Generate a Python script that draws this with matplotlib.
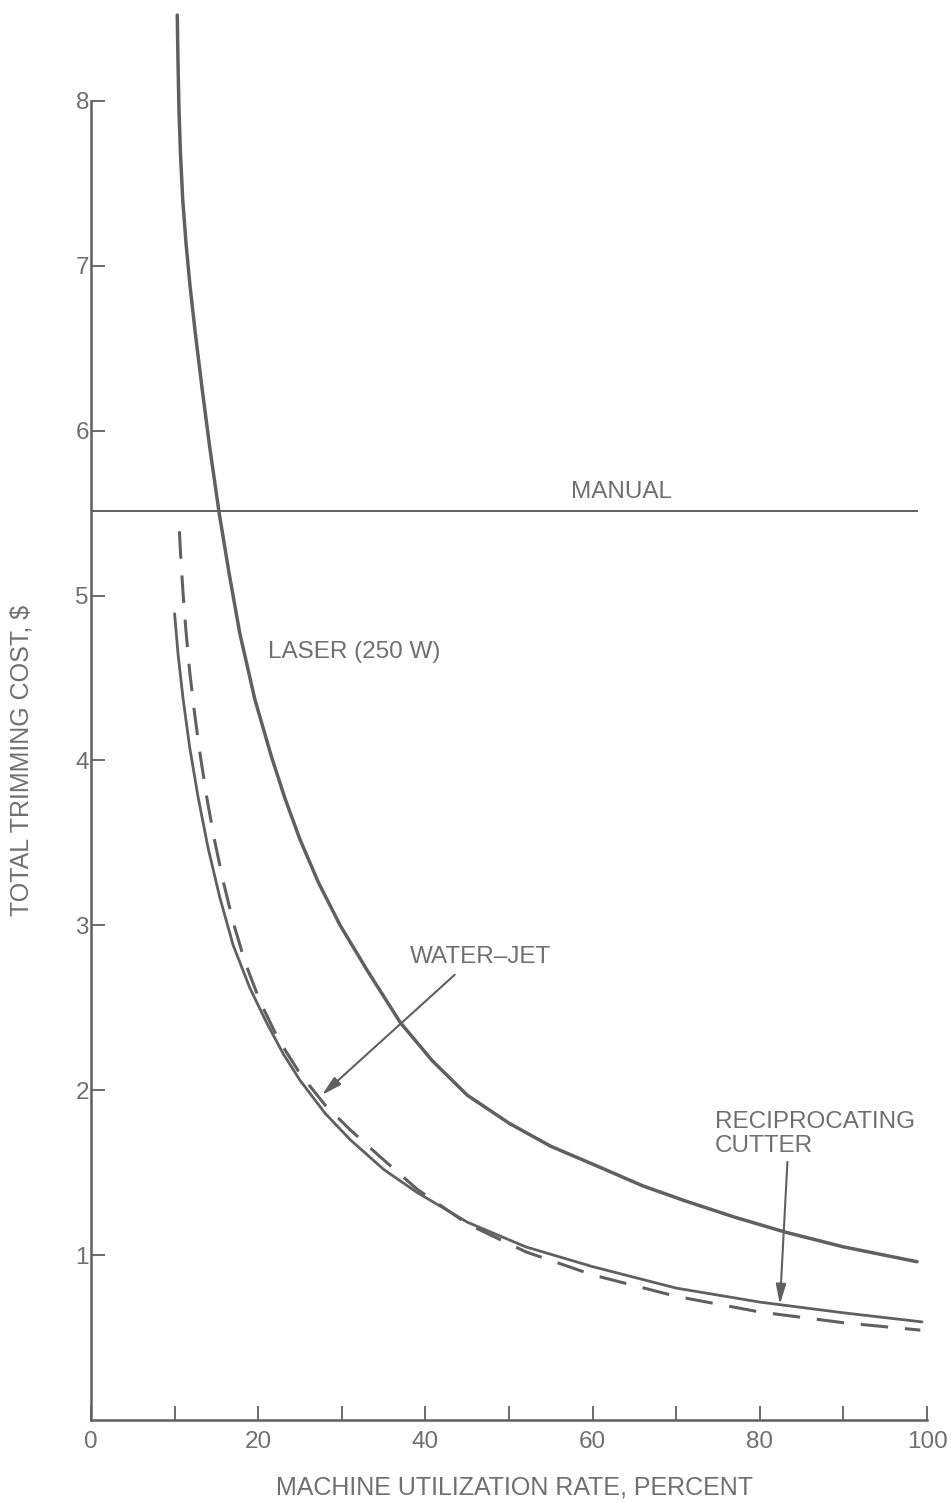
"""Total trimming cost vs machine utilization rate (laser, water-jet, reciprocating cutter, manual)."""

import matplotlib

matplotlib.use("Agg")
import matplotlib.pyplot as plt

# values
laser_x = [10.32, 10.40, 10.52, 10.70, 10.97, 11.36, 11.84, 12.5, 13.3, 14.2, 15.3, 16.5, 17.8,
           19.6, 21.6, 23.2, 25.0, 27.2, 29.8, 33.0, 37.0, 40.8, 45.0, 50.0, 55.0, 61.0, 66.0,
           71.0, 77.0, 83.0, 90.0, 98.8]
laser_y = [8.52, 8.25, 7.95, 7.68, 7.40, 7.14, 6.88, 6.58, 6.25, 5.90, 5.51, 5.14, 4.77,
           4.37, 4.02, 3.77, 3.52, 3.26, 3.00, 2.73, 2.41, 2.18, 1.97, 1.80, 1.66, 1.53, 1.42,
           1.33, 1.23, 1.14, 1.05, 0.96]

waterjet_x = [10.57, 10.75, 11.0, 11.35, 11.8, 12.4, 13.1, 13.9, 14.8, 15.8, 17.0, 18.4, 20.2,
              22.4, 25.0, 28.0, 31.0, 34.5, 39.0, 45.0, 52.0, 60.0, 70.0, 80.0, 90.0, 99.2]
waterjet_y = [5.39, 5.22, 5.02, 4.79, 4.54, 4.28, 4.02, 3.76, 3.51, 3.27, 3.02, 2.78, 2.54,
              2.31, 2.10, 1.91, 1.76, 1.60, 1.40, 1.19, 1.02, 0.88, 0.75, 0.655, 0.59, 0.545]

recip_x = [10.0, 10.4, 11.0, 11.8, 12.8, 14.0, 15.4, 17.0, 19.0, 21.0, 23.0, 25.0, 28.0, 31.0,
           35.0, 39.0, 45.0, 52.0, 60.0, 70.0, 80.0, 90.0, 99.4]
recip_y = [4.89, 4.65, 4.38, 4.08, 3.78, 3.47, 3.17, 2.88, 2.62, 2.41, 2.22, 2.06, 1.86, 1.70,
           1.52, 1.38, 1.20, 1.05, 0.93, 0.80, 0.715, 0.65, 0.595]

manual_cost = 5.51
manual_span = [0, 98.8]

x_major = [0, 20, 40, 60, 80, 100]
x_minor = [10, 30, 50, 70, 90]
y_ticks = [1, 2, 3, 4, 5, 6, 7, 8]

LINE = "#606060"
TEXT = "#6f6f6f"
FONT = ["Liberation Sans", "DejaVu Sans"]

plt.rcParams["font.family"] = FONT

fig = plt.figure(figsize=(9.51, 15.03), dpi=100)
ax = fig.add_axes([0.0957, 0.05522, 0.8791, 0.9435])

ax.plot(laser_x, laser_y, color=LINE, lw=2.5, solid_capstyle="round")
ax.plot(recip_x, recip_y, color=LINE, lw=2.0, solid_capstyle="round")
ax.plot(waterjet_x, waterjet_y, color=LINE, lw=2.2, dashes=(9, 5.5), dash_capstyle="butt")
ax.plot(manual_span, [manual_cost, manual_cost], color=LINE, lw=1.4)

lab = dict(color=TEXT, fontsize=17.5, va="center")
ax.text(63.4, 5.63, "MANUAL", ha="center", **lab)
ax.text(21.2, 4.66, "LASER (250 W)", ha="left", **lab)
ax.text(38.2, 2.81, "WATER\u2013JET", ha="left", **lab)
ax.text(74.6, 1.735, "RECIPROCATING\nCUTTER", ha="left", linespacing=1.1, **lab)

arrow = dict(arrowstyle="-|>,head_length=1.2,head_width=0.3", color=LINE, lw=1.5,
             shrinkA=0, shrinkB=0)
ax.annotate("", xy=(27.6, 1.97), xytext=(43.5, 2.70), arrowprops=arrow)
ax.annotate("", xy=(82.4, 0.70), xytext=(83.3, 1.565), arrowprops=arrow)

ax.set_xlim(0, 100)
ax.set_ylim(0, 8.6)
ax.spines["top"].set_visible(False)
ax.spines["right"].set_visible(False)
ax.spines["left"].set_bounds(0, 8)
ax.spines["bottom"].set_bounds(0, 100)
for side in ("left", "bottom"):
    ax.spines[side].set_color(LINE)
    ax.spines[side].set_linewidth(1.8)

ax.set_xticks(x_major)
ax.set_xticks(x_minor, minor=True)
ax.set_yticks(y_ticks)
ax.tick_params(axis="x", which="both", direction="in", length=10, width=1.3, color=LINE,
               labelcolor=TEXT, labelsize=17.5, pad=8)
ax.tick_params(axis="y", direction="in", length=10, width=1.3, color=LINE,
               labelcolor=TEXT, labelsize=17.5, pad=1.5)

fig.text(515 / 951, 1 - 1487 / 1503, "MACHINE UTILIZATION RATE, PERCENT", color=TEXT,
         fontsize=18, ha="center", va="center")
fig.text(22 / 951, 1 - 760 / 1503, "TOTAL TRIMMING COST, $", color=TEXT, fontsize=18,
         rotation=90, ha="center", va="center")

fig.savefig("out.png", dpi=100)
